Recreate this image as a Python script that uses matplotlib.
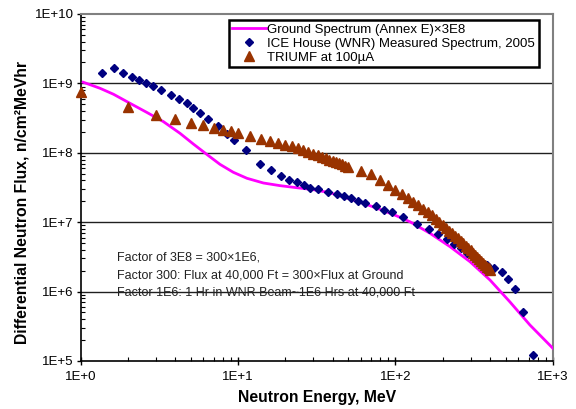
import matplotlib
matplotlib.use("Agg")
import matplotlib.pyplot as plt
from matplotlib.ticker import LogLocator, NullFormatter, FixedLocator

plt.rcParams["font.family"] = ["Liberation Sans", "DejaVu Sans"]

# Ground spectrum (Annex E) x 3E8
ground_e = [1.04, 1.33, 1.62, 2.06, 2.63, 3.36, 4.28, 5.20, 6.33, 7.68, 9.33, 11.4,
            14.5, 18.5, 23.6, 30.1, 38.4, 49.0, 62.5, 79.8, 102, 124, 166, 222,
            297, 398, 533, 714, 1000]
ground_flux = [1.04e9, 8.5e8, 6.97e8, 5.17e8, 3.83e8, 2.81e8, 1.91e8, 1.34e8,
               9.5e7, 6.82e7, 5.24e7, 4.29e7, 3.67e7, 3.36e7, 3.14e7, 2.94e7,
               2.66e7, 2.23e7, 1.87e7, 1.53e7, 1.23e7, 1.01e7, 6.9e6, 4.44e6,
               2.70e6, 1.47e6, 7.1e5, 3.3e5, 1.52e5]

# ICE House (WNR) measured spectrum, 2005
wnr_e = [1.375, 1.62, 1.87, 2.12, 2.36, 2.61, 2.87, 3.24, 3.74, 4.24, 4.75, 5.20,
         5.74, 6.48, 7.46, 8.48, 9.48, 11.2, 13.7, 16.1, 18.7, 21.2, 23.6, 26.3,
         28.7, 32.4, 37.3, 42.3, 47.3, 52.4, 57.5, 64.3, 74.8, 84.5, 94.6, 111,
         136, 163, 187, 211, 236, 261, 284, 312, 344, 381, 424, 475, 520, 571,
         642, 750]
wnr_flux = [1.43e9, 1.65e9, 1.40e9, 1.25e9, 1.13e9, 1.02e9, 9.3e8, 8.1e8, 6.8e8,
            5.9e8, 5.2e8, 4.47e8, 3.74e8, 3.04e8, 2.43e8, 1.88e8, 1.53e8, 1.09e8,
            6.97e7, 5.6e7, 4.63e7, 4.1e7, 3.79e7, 3.40e7, 3.14e7, 3.04e7, 2.75e7,
            2.55e7, 2.39e7, 2.23e7, 2.04e7, 1.87e7, 1.69e7, 1.51e7, 1.38e7,
            1.19e7, 9.5e6, 7.9e6, 6.7e6, 5.7e6, 4.82e6, 4.18e6, 3.6e6, 3.12e6,
            2.76e6, 2.45e6, 2.21e6, 1.90e6, 1.50e6, 1.08e6, 5.1e5, 1.22e5]

# TRIUMF at 100uA
triumf_e = [1, 2, 3, 4, 5, 6, 7, 8, 9, 10, 12, 14, 16, 18, 20, 22,
            24, 26, 28, 30, 32, 34, 36, 38, 40, 42, 44, 46, 48, 50,
            60, 70, 80, 90, 100, 110,
            120, 130, 140, 150, 160, 170, 180, 190, 200, 210, 220, 230, 240,
            250, 260, 270, 280, 290, 300, 310, 320, 330, 340, 350, 360, 370,
            380, 390, 400]
triumf_flux = [7.6e8, 4.53e8, 3.51e8, 3.04e8, 2.69e8, 2.49e8, 2.30e8, 2.15e8,
               2.06e8, 1.93e8, 1.76e8, 1.60e8, 1.48e8, 1.38e8, 1.31e8, 1.24e8,
               1.17e8, 1.10e8, 1.03e8, 9.7e7, 9.2e7, 8.75e7, 8.3e7, 8.0e7, 7.6e7,
               7.3e7, 7.05e7, 6.8e7, 6.55e7, 6.3e7,
               5.47e7, 4.9e7, 4.02e7, 3.40e7, 2.91e7, 2.52e7,
               2.21e7, 1.97e7, 1.77e7, 1.57e7, 1.40e7, 1.25e7, 1.12e7, 1.01e7,
               9.1e6, 8.3e6, 7.55e6, 6.9e6, 6.33e6, 5.82e6, 5.37e6, 4.95e6,
               4.56e6, 4.22e6, 3.91e6, 3.64e6, 3.38e6, 3.14e6, 2.94e6, 2.75e6,
               2.58e6, 2.42e6, 2.28e6, 2.17e6, 2.07e6]

x_ticks = [1, 10, 100, 1000]
x_labels = ["1E+0", "1E+1", "1E+2", "1E+3"]
y_ticks = [1e5, 1e6, 1e7, 1e8, 1e9, 1e10]
y_labels = ["1E+5", "1E+6", "1E+7", "1E+8", "1E+9", "1E+10"]

notes = [
    "Factor of 3E8 = 300\u00d71E6,",
    "Factor 300: Flux at 40,000 Ft = 300\u00d7Flux at Ground",
    "Factor 1E6: 1 Hr in WNR Beam~1E6 Hrs at 40,000 Ft",
]

fig = plt.figure(figsize=(5.76, 4.09), dpi=100)
ax = fig.add_axes([0.1398, 0.1174, 0.8202, 0.8484])
ax.set_xscale("log")
ax.set_yscale("log")
ax.set_xlim(1, 1000)
ax.set_ylim(1e5, 1e10)

for yv in y_ticks[1:-1]:
    ax.axhline(yv, color="#202020", linewidth=1.0, zorder=1)

ax.plot(ground_e, ground_flux, color="#FF00FF", linewidth=2.0,
        label="Ground Spectrum (Annex E)\u00d73E8", zorder=3)
ax.plot(wnr_e, wnr_flux, linestyle="none", marker="D", markersize=4.2,
        color="#000080", label="ICE House (WNR) Measured Spectrum, 2005", zorder=4)
ax.plot(triumf_e, triumf_flux, linestyle="none", marker="^", markersize=7,
        color="#993300", label="TRIUMF at 100\u00b5A", zorder=4, clip_on=False)

ax.xaxis.set_major_locator(FixedLocator(x_ticks))
ax.set_xticklabels(x_labels)
ax.yaxis.set_major_locator(FixedLocator(y_ticks))
ax.set_yticklabels(y_labels)
ax.xaxis.set_minor_locator(LogLocator(base=10, subs=range(2, 10)))
ax.yaxis.set_minor_locator(LogLocator(base=10, subs=range(2, 10)))
ax.xaxis.set_minor_formatter(NullFormatter())
ax.yaxis.set_minor_formatter(NullFormatter())

ax.tick_params(axis="x", which="major", direction="inout", length=6, width=1.0,
               labelsize=9.5, pad=4)
ax.tick_params(axis="y", which="major", direction="out", length=3, width=1.0,
               labelsize=9.5, pad=2)
ax.tick_params(which="minor", direction="in", length=3, width=0.8)

for side in ("top", "right"):
    ax.spines[side].set_color("#808080")
    ax.spines[side].set_linewidth(1.5)
for side in ("left", "bottom"):
    ax.spines[side].set_color("black")
    ax.spines[side].set_linewidth(1.2)

ax.set_xlabel("Neutron Energy, MeV", fontsize=11.3, fontweight="bold", labelpad=5)
ax.set_ylabel("Differential Neutron Flux, n/cm\u00b2MeVhr", fontsize=11.3,
              fontweight="bold")
ax.yaxis.set_label_coords(-0.107, 0.458)

leg = ax.legend(loc="upper right", bbox_to_anchor=(0.975, 0.99), fontsize=9.5,
                frameon=True, fancybox=False, borderpad=0.25, labelspacing=0.15,
                handlelength=2.6, handletextpad=0.1, borderaxespad=0.2)
frame = leg.get_frame()
frame.set_edgecolor("black")
frame.set_linewidth(1.8)
frame.set_alpha(1.0)

for i, line in enumerate(notes):
    ax.text(0.078, 0.298 - i * 0.051, line, transform=ax.transAxes,
            fontsize=9, color="#222222", va="center", ha="left")

plt.savefig("out.png", dpi=100)
